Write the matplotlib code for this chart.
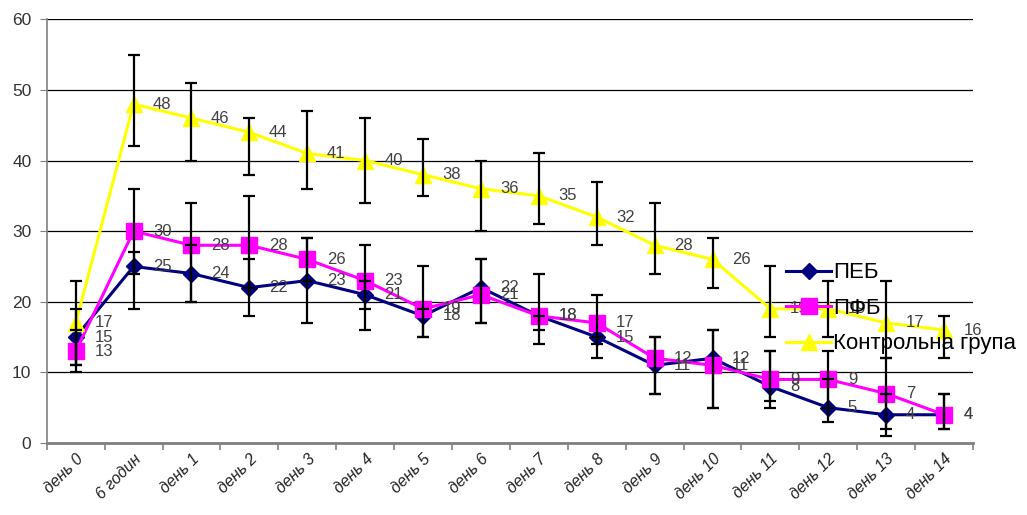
import numpy as np
import matplotlib
matplotlib.use("Agg")
import matplotlib.pyplot as plt

plt.rcParams['font.family'] = ['Liberation Sans', 'DejaVu Sans']

categories = ['день 0', '6 годин', 'день 1', 'день 2', 'день 3', 'день 4', 'день 5',
              'день 6', 'день 7', 'день 8', 'день 9', 'день 10', 'день 11',
              'день 12', 'день 13', 'день 14']

# series values
peb = [15, 25, 24, 22, 23, 21, 18, 22, 18, 15, 11, 12, 8, 5, 4, 4]
pfb = [13, 30, 28, 28, 26, 23, 19, 21, 18, 17, 12, 11, 9, 9, 7, 4]
ctrl = [17, 48, 46, 44, 41, 40, 38, 36, 35, 32, 28, 26, 19, 19, 17, 16]

# error bar bounds (low / high)
peb_lo = [11, 19, 20, 18, 17, 16, 15, 17, 14, 12, 7, 5, 5, 3, 1, 2]
peb_hi = [19, 27, 28, 26, 29, 23, 19, 26, 18, 15, 15, 16, 13, 9, 7, 7]
pfb_lo = [10, 24, 20, 22, 23, 19, 15, 17, 16, 14, 7, 5, 6, 5, 2, 2]
pfb_hi = [16, 36, 34, 35, 29, 28, 25, 26, 24, 21, 15, 16, 13, 13, 12, 7]
ctrl_lo = [11, 42, 40, 38, 36, 34, 35, 30, 31, 28, 24, 22, 15, 15, 12, 12]
ctrl_hi = [23, 55, 51, 46, 47, 46, 43, 40, 41, 37, 34, 29, 25, 23, 23, 18]

series = [
    ('ПЕБ', peb, peb_lo, peb_hi, '#000080', 'D', 8),
    ('ПФБ', pfb, pfb_lo, pfb_hi, '#FF00FF', 's', 11),
    ('Контрольна група', ctrl, ctrl_lo, ctrl_hi, '#FFFF00', '^', 11),
]

fig = plt.figure(figsize=(10.27, 5.15), dpi=100)
ax = fig.add_axes([0.0455, 0.1398, 0.902, 0.8227])

x = np.arange(len(categories))
handles = []
for i, (name, vals, lo, hi, col, mk, ms) in enumerate(series):
    vals = np.array(vals)
    h, = ax.plot(x, vals, color=col, marker=mk, markersize=ms, lw=2.2,
                 label=name, zorder=3 + i)
    handles.append(h)
    yerr = [vals - np.array(lo), np.array(hi) - vals]
    ax.errorbar(x, vals, yerr=yerr, fmt='none', ecolor='black', elinewidth=1.6,
                capsize=4, capthick=1.6, zorder=10)
    for xi, v in zip(x, vals):
        ax.annotate(str(v), (xi, v), xytext=(14, 0), textcoords='offset points',
                    ha='left', va='center', fontsize=12, color='#404040', zorder=12)

ax.set_xlim(-0.5, len(categories) - 0.5)
ax.set_ylim(0, 60)
ax.set_yticks(range(0, 61, 10))
ax.yaxis.grid(True, color='black', lw=0.9)
ax.set_axisbelow(True)

ax.set_xticks(x)
ax.set_xticklabels(categories, rotation=45, ha='right', rotation_mode='anchor',
                   fontsize=11.5, style='italic', color='#222222')
ax.set_xticks(np.arange(-0.5, len(categories), 1), minor=True)
ax.tick_params(axis='x', which='major', length=0, pad=6)
ax.tick_params(axis='x', which='minor', length=5, color='#808080', width=1.2)
ax.tick_params(axis='y', length=5, color='#808080', labelsize=12.5, labelcolor='#333333', pad=6)

for s in ['top', 'right']:
    ax.spines[s].set_visible(False)
ax.spines['bottom'].set_color('#808080')
ax.spines['bottom'].set_linewidth(2)
ax.spines['left'].set_color('#808080')
ax.spines['left'].set_linewidth(1.2)

fig.legend(handles=handles, loc='upper left', bbox_to_anchor=(0.755, 0.512),
           frameon=False, fontsize=16, numpoints=1, handlelength=2.0,
           handletextpad=0.1, labelspacing=0.65, borderpad=0)

fig.savefig('out.png', dpi=100)
